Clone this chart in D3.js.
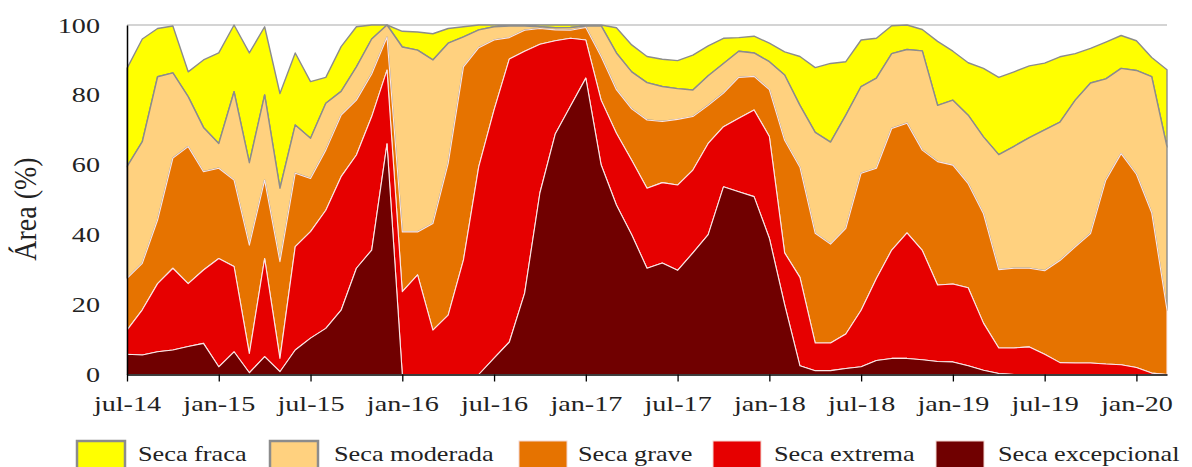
<html>
<!-- Load d3.js -->
<script src="https://d3js.org/d3.v7.min.js"></script>
<style>
	body {
		margin: 0;
		background: #fff;
	}

	text {
		font-family: "Liberation Serif", "Times New Roman", serif;
		fill: #222;
	}
</style>

<body>
	<svg width=1192 height=467></svg>
	<script>
		// tick labels, every 6 months
		const tickLabels = ["jul-14", "jan-15", "jul-15", "jan-16", "jul-16", "jan-17",
			"jul-17", "jan-18", "jul-18", "jan-19", "jul-19", "jan-20"];

		// legend order (left to right)
		const seriesNames = ["Seca fraca", "Seca moderada", "Seca grave", "Seca extrema", "Seca excepcional"];

		// % of area per class, monthly from jul-14 to mar-20
		const excepcional = [5.8, 5.6, 6.5, 7.0, 8.0, 8.9, 2.2, 6.5, 0.5, 5.1, 0.8, 7.0, 10.4, 13.2, 18.4, 30.4, 35.6, 66.0,
			0, 0, 0, 0, 0, 0, 4.7, 9.3, 23.3, 52.0, 68.8, 76.8, 84.8,
			60.0, 48.5, 40.0, 30.4, 31.9, 29.8, 34.8, 40.0, 53.7, 52.3, 50.9, 39.0, 20.0, 2.5,
			1.1, 1.1, 1.7, 2.2, 4.0, 4.6, 4.6, 4.2, 3.7, 3.6, 2.5, 1.2, 0.3,
			0, 0, 0, 0, 0, 0, 0, 0, 0, 0, 0];
		const extrema = [6.9, 12.9, 19.5, 23.4, 18.0, 21.0, 31.0, 24.4, 5.5, 28.1, 3.8, 29.6, 30.5, 33.8, 38.2, 32.4, 38.2, 21.1,
			23.7, 28.5, 12.7, 17.0, 32.8, 59.5, 71.0, 81.0, 69.2, 42.5, 26.7, 19.4, 10.9,
			18.5, 20.5, 21.3, 22.9, 23.0, 24.4, 23.7, 26.1, 17.2, 21.0, 24.8, 29.1, 14.8, 25.3,
			7.9, 7.9, 9.9, 16.2, 23.5, 31.0, 35.9, 31.3, 21.9, 22.3, 22.3, 13.5, 7.3,
			7.6, 7.9, 5.8, 3.4, 3.3, 3.3, 3.0, 2.8, 2.0, 0.4, 0];
		const grave = [14.8, 13.3, 18.2, 31.5, 39.2, 28.1, 25.8, 24.7, 31.0, 22.4, 27.7, 21.0, 15.2, 17.2, 17.6, 15.7, 12.2, 9.4,
			17.1, 12.3, 30.5, 43.4, 55.2, 34.0, 20.0, 6.1, 6.0, 4.5, 3.1, 2.3, 3.6,
			12.5, 12.5, 14.7, 19.5, 17.5, 18.8, 15.3, 10.9, 9.6, 11.7, 9.6, 13.4, 32.2, 31.5,
			31.4, 28.3, 30.2, 39.2, 31.5, 34.8, 31.4, 28.7, 35.3, 34.0, 29.8, 31.3, 22.4,
			22.8, 22.5, 23.9, 29.2, 33.2, 37.0, 52.6, 60.4, 55.3, 45.9, 18.4];
		const moderada = [32.0, 34.8, 41.0, 24.4, 14.3, 12.7, 7.1, 25.3, 23.6, 24.4, 21.0, 13.8, 11.5, 13.4, 6.8, 9.5, 10.0, 3.5,
			52.9, 52.0, 46.8, 34.4, 8.6, 5.1, 3.8, 3.3, 1.2, 0.5, 0.6, 0.8, 0.4,
			8.8, 10.5, 10.6, 10.7, 10.0, 8.8, 7.6, 8.5, 8.5, 7.5, 6.7, 8.0, 18.7, 17.7,
			28.9, 29.2, 32.4, 24.8, 25.8, 21.4, 21.1, 28.4, 16.1, 18.6, 19.6, 22.0, 32.9,
			34.9, 37.4, 40.3, 39.6, 42.0, 43.1, 29.0, 24.4, 29.7, 38.9, 46.7];
		const fraca = [28.1, 29.4, 13.8, 13.4, 7.1, 19.3, 25.9, 19.1, 31.4, 19.5, 27.1, 20.6, 16.2, 7.4, 12.8, 11.5, 4.0, 0,
			4.5, 5.2, 7.5, 4.2, 2.9, 1.4, 0.5, 0.3, 0.3, 0.5, 0.8, 0.7, 0.3,
			0.2, 7.2, 7.7, 7.5, 7.8, 8.0, 10.0, 8.5, 7.2, 3.9, 4.8, 5.3, 6.6, 14.0,
			18.5, 22.5, 15.3, 13.3, 11.4, 8.0, 7.0, 6.1, 18.3, 14.0, 15.0, 19.6, 22.1,
			21.3, 20.5, 19.1, 18.7, 13.3, 9.9, 10.5, 9.4, 8.5, 5.5, 22.1];

		const colors = {
			"Seca fraca": "#ffff00",
			"Seca moderada": "#ffd17f",
			"Seca grave": "#e67300",
			"Seca extrema": "#e60000",
			"Seca excepcional": "#700000"
		};

		// table for d3.stack
		const rows = excepcional.map(function (v, i) {
			return {
				month: i,
				"Seca excepcional": v,
				"Seca extrema": extrema[i],
				"Seca grave": grave[i],
				"Seca moderada": moderada[i],
				"Seca fraca": fraca[i]
			};
		});

		const svg = d3.select('svg');

		const x = d3.scaleLinear().domain([0, rows.length - 1]).range([127, 1167]);
		const y = d3.scaleLinear().domain([0, 100]).range([374.5, 25]);

		// gridline at 100
		svg.append('line')
			.attr('x1', x(0)).attr('x2', x(rows.length - 1))
			.attr('y1', y(100)).attr('y2', y(100))
			.attr('stroke', '#d4d4d4')
			.attr('stroke-width', 2);

		const stack = d3.stack()
			.keys(["Seca excepcional", "Seca extrema", "Seca grave", "Seca moderada", "Seca fraca"]);

		const area = d3.area()
			.x(function (d) { return x(d.data.month); })
			.y0(function (d) { return y(d[0]); })
			.y1(function (d) { return y(d[1]); });

		// draw top layer first so the lower layers' white outlines stay on top
		svg.append('g')
			.selectAll('path').data(stack(rows).reverse()).enter().append('path')
			.attr('d', area)
			.attr('fill', function (d) { return colors[d.key]; })
			.attr('stroke', function (d) {
				return (d.key == "Seca fraca" || d.key == "Seca moderada") ? '#8c8c8c' : '#fbe6e6';
			})
			.attr('stroke-width', function (d) {
				return (d.key == "Seca fraca" || d.key == "Seca moderada") ? 1.4 : 1.1;
			})
			.attr('stroke-linejoin', 'round');

		// y axis
		const yAxis = svg.append('g')
			.attr('transform', 'translate(127,0)')
			.call(d3.axisLeft(y).tickValues([0, 20, 40, 60, 80, 100]).tickSize(0).tickSizeOuter(0));
		yAxis.select('.domain').attr('stroke', '#000').attr('stroke-width', 1.5);
		yAxis.selectAll('text')
			.attr('x', -27 / 1.28)
			.attr('transform', 'scale(1.28,1)')
			.style('font-family', '"Liberation Serif", serif')
			.style('font-size', '22px')
			.attr('fill', '#222');

		// x axis
		const xAxis = svg.append('g')
			.attr('transform', 'translate(0,' + y(0) + ')')
			.call(d3.axisBottom(x)
				.tickValues(tickLabels.map(function (d, k) { return k * 6; }))
				.tickFormat(function (d, k) { return tickLabels[k]; })
				.tickSize(7).tickSizeOuter(0));
		xAxis.select('.domain').attr('stroke', '#000').attr('stroke-width', 1.5);
		xAxis.selectAll('.tick line').attr('stroke', '#000').attr('stroke-width', 1.3);
		xAxis.selectAll('text')
			.attr('y', 21)
			.attr('transform', 'scale(1.28,1)')
			.style('font-family', '"Liberation Serif", serif')
			.style('font-size', '22px')
			.attr('fill', '#222');

		// y title
		svg.append('text')
			.attr('transform', 'translate(36,209) rotate(-90) scale(1,1.15)')
			.attr('text-anchor', 'middle')
			.style('font-size', '28px')
			.text("Área (%)");

		// Handmade legend
		const legRectX = [77, 270, 519, 713, 936];
		const legTextX = [138, 334, 578, 774, 998];
		const leg = svg.append('g');
		seriesNames.forEach(function (name, k) {
			leg.append('rect')
				.attr('x', legRectX[k]).attr('y', 441)
				.attr('width', 48).attr('height', 30)
				.attr('fill', colors[name])
				.attr('stroke', k < 2 ? '#8c8c8c' : '#f4d6d0')
				.attr('stroke-width', k < 2 ? 2.5 : 1);
			leg.append('g')
				.attr('transform', 'translate(' + legTextX[k] + ',461) scale(1.25,1)')
				.append('text')
				.style('font-size', '21px')
				.text(name);
		});
	</script>
</body>

</html>
